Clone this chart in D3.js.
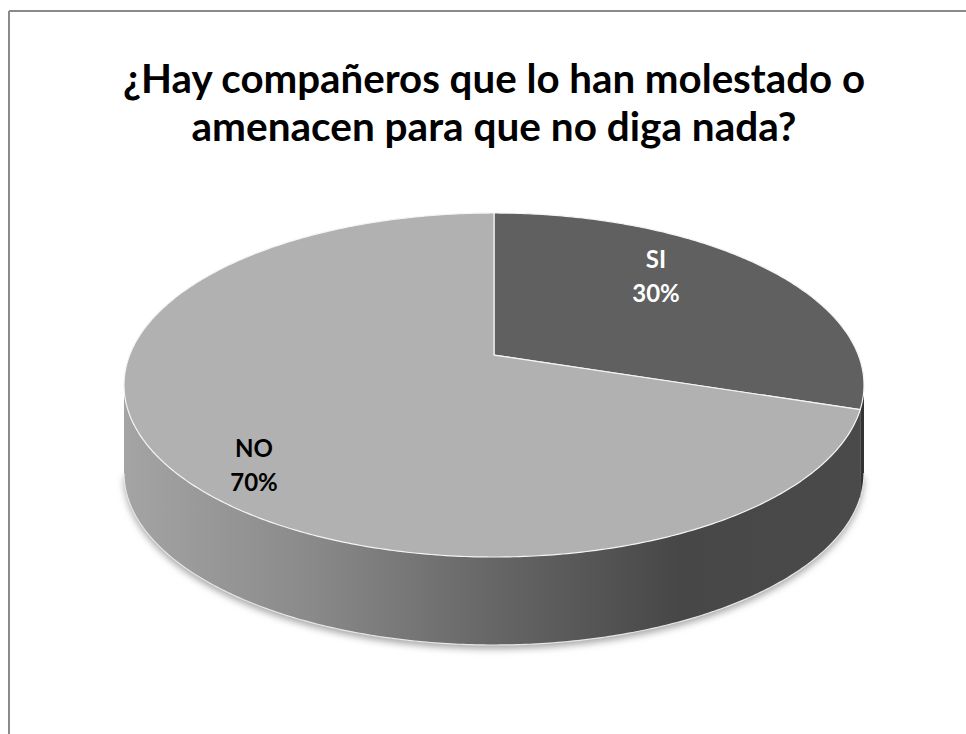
<!DOCTYPE html>
<html>
<head>
<meta charset="utf-8">
<script src="https://cdn.jsdelivr.net/npm/d3@7"></script>
<style>
  html, body { margin: 0; padding: 0; background: #fff; }
  svg { display: block; }
</style>
</head>
<body>
<svg id="chart" width="966" height="734"></svg>
<script>
// ---- data ----
const titleLines = ["¿Hay compañeros que lo han molestado o", "amenacen para que no diga nada?"];
const categories = ["SI", "NO"];
const values = [30, 70];
const percentLabels = ["30%", "70%"];
const topColors = ["#606060", "#b1b1b1"];
const labelColors = ["#ffffff", "#000000"];

// ---- layout ----
const W = 966, H = 734;
const cx = 494, cy = 385, rx = 370, ry = 172, depth = 88;
const tPersp = -0.174; // perspective shift of the pie centre
const svg = d3.select("#chart");
const defs = svg.append("defs");

// border
svg.append("line").attr("x1", 9).attr("y1", 11).attr("x2", W + 5).attr("y2", 11)
  .attr("stroke", "#8a8a8a").attr("stroke-width", 2);
svg.append("line").attr("x1", 9).attr("y1", 11).attr("x2", 9).attr("y2", H + 5)
  .attr("stroke", "#8a8a8a").attr("stroke-width", 2);

// title
const titleFont = "Lato, 'Open Sans', sans-serif";
const title = svg.append("g");
const tl = title.selectAll("text").data(titleLines).join("text")
  .attr("x", cx).attr("y", (d, i) => 93 + i * 48)
  .attr("text-anchor", "middle")
  .attr("font-family", titleFont).attr("font-weight", 700)
  .attr("font-size", 41).attr("fill", "#000")
  .text(d => d);
const targetW = [742, 605];
tl.each(function (d, i) {
  d3.select(this).attr("textLength", targetW[i]).attr("lengthAdjust", "spacingAndGlyphs");
});

// ---- pie geometry ----
const pie = d3.pie().sort(null).value(d => d);
const arcs = pie(values);

// projective map of a 3D angle onto the top ellipse
const ch = Math.sqrt(1 - tPersp * tPersp);
function proj(theta) {
  const u = Math.sin(theta), v = -Math.cos(theta);
  const den = 1 + tPersp * v;
  return [u * ch / den, (v + tPersp) / den];
}
function screenAngle(theta) {
  const p = proj(theta);
  let a = Math.atan2(p[0], -p[1]);
  if (a < 0) a += 2 * Math.PI;
  if (theta >= 2 * Math.PI - 1e-9 && a < 1e-6) a = 2 * Math.PI;
  return a;
}
const ex = phi => cx + rx * Math.sin(phi);
const ey = phi => cy - ry * Math.cos(phi);
const apex = [cx, cy + ry * tPersp];

// gradients
const gNo = defs.append("linearGradient").attr("id", "wallNo")
  .attr("gradientUnits", "userSpaceOnUse")
  .attr("x1", cx - rx).attr("x2", cx + rx).attr("y1", 0).attr("y2", 0);
[[0, "#a4a4a4"], [0.25, "#8a8a8a"], [0.5, "#666666"], [0.75, "#474747"], [1, "#4a4a4a"]]
  .forEach(s => gNo.append("stop").attr("offset", s[0]).attr("stop-color", s[1]));
const gSi = defs.append("linearGradient").attr("id", "wallSi")
  .attr("gradientUnits", "userSpaceOnUse")
  .attr("x1", cx - rx).attr("x2", cx + rx).attr("y1", 0).attr("y2", 0);
[[0, "#555"], [1, "#333"]]
  .forEach(s => gSi.append("stop").attr("offset", s[0]).attr("stop-color", s[1]));
const wallFill = ["url(#wallSi)", "url(#wallNo)"];

// shadow filter
const f = defs.append("filter").attr("id", "shadow")
  .attr("x", "-10%").attr("y", "-10%").attr("width", "120%").attr("height", "130%");
f.append("feGaussianBlur").attr("stdDeviation", 3.5);

// shadow under the pie
const shadowPts = d3.range(0, 181).map(i => {
  const phi = Math.PI / 2 + i * Math.PI / 180;
  return [ex(phi), ey(phi) + depth + 4];
});
svg.append("path")
  .attr("d", d3.line()(shadowPts) + "Z")
  .attr("fill", "#a8a8a8").attr("filter", "url(#shadow)");

// walls
const wallG = svg.append("g");
arcs.forEach((a, i) => {
  const p0 = screenAngle(a.startAngle), p1 = screenAngle(a.endAngle);
  const lo = Math.max(p0, Math.PI / 2), hi = Math.min(p1, 3 * Math.PI / 2);
  if (hi <= lo) return;
  const n = Math.max(4, Math.ceil((hi - lo) * 90));
  const top = d3.range(n + 1).map(k => { const ph = lo + (hi - lo) * k / n; return [ex(ph), ey(ph)]; });
  const bot = top.slice().reverse().map(p => [p[0], p[1] + depth]);
  wallG.append("path")
    .attr("d", d3.line()(top.concat(bot)) + "Z")
    .attr("fill", wallFill[i]);
  wallG.append("path")
    .attr("d", d3.line()(bot))
    .attr("fill", "none").attr("stroke", "#e6e6e6").attr("stroke-width", 1.2);
});

// tops
const topG = svg.append("g");
arcs.forEach((a, i) => {
  const n = Math.ceil((a.endAngle - a.startAngle) * 90);
  const pts = [apex];
  for (let k = 0; k <= n; k++) {
    const th = a.startAngle + (a.endAngle - a.startAngle) * k / n;
    const p = proj(th);
    pts.push([cx + rx * p[0], cy + ry * p[1]]);
  }
  topG.append("path")
    .attr("d", d3.line()(pts) + "Z")
    .attr("fill", topColors[i])
    .attr("stroke", "#f4f4f4").attr("stroke-width", 1.2).attr("stroke-linejoin", "round");
});

// labels
const labelPos = [[656, 268, 302], [254, 457, 491]];
const labG = svg.append("g");
arcs.forEach((a, i) => {
  const t = labG.append("text")
    .attr("text-anchor", "middle")
    .attr("font-family", titleFont).attr("font-weight", 700)
    .attr("font-size", 24).attr("fill", labelColors[i]);
  t.append("tspan").attr("x", labelPos[i][0]).attr("y", labelPos[i][1]).text(categories[i]);
  t.append("tspan").attr("x", labelPos[i][0]).attr("y", labelPos[i][2]).text(percentLabels[i]);
});
</script>
</body>
</html>
